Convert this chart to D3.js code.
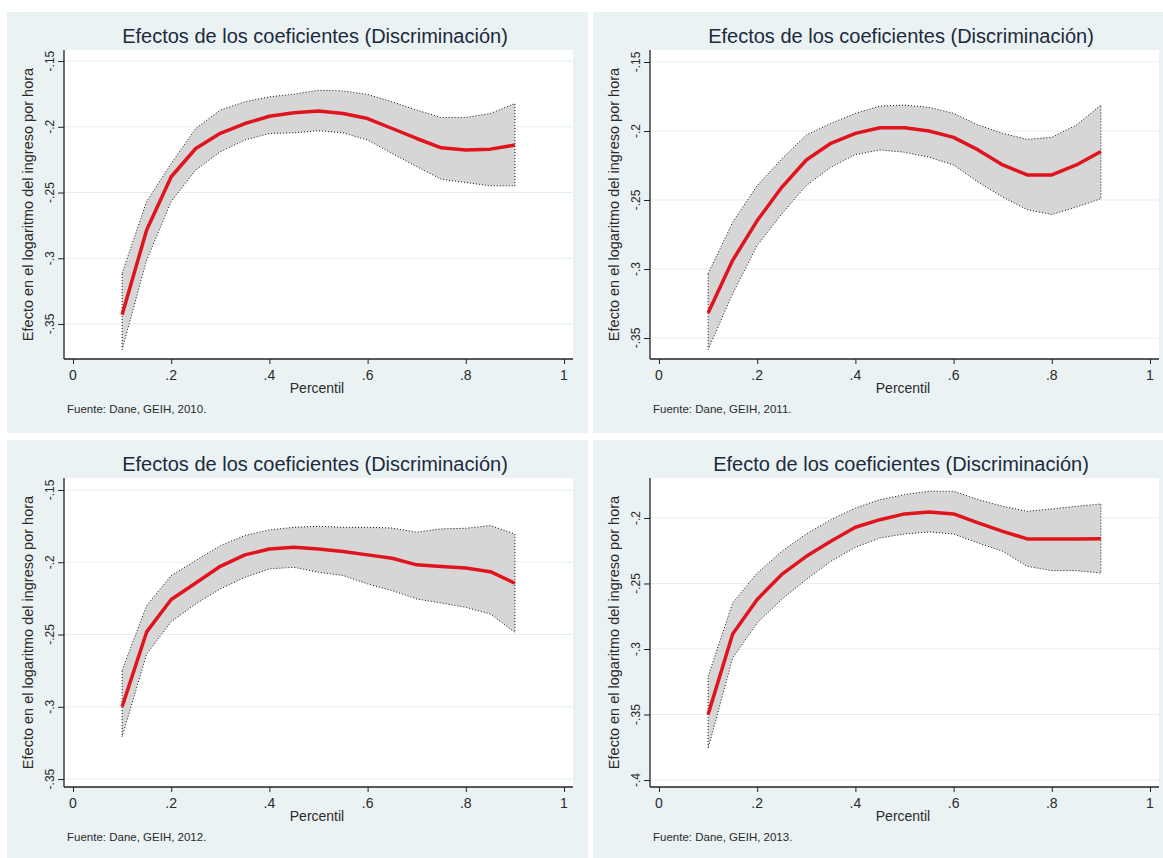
<!DOCTYPE html>
<html>
<head>
<meta charset="utf-8">
<script src="https://cdn.jsdelivr.net/npm/d3@7"></script>
<style>
  body { margin: 0; background: #fff; }
  text { font-family: Arial, "Liberation Sans", sans-serif; }
</style>
</head>
<body>
<svg id="chart" width="1163" height="858"></svg>
<script>
// percentiles estimated (x axis)
const percentiles = [0.10, 0.15, 0.20, 0.25, 0.30, 0.35, 0.40, 0.45, 0.50, 0.55, 0.60, 0.65, 0.70, 0.75, 0.80, 0.85, 0.90];
const xTicks = [0, 0.2, 0.4, 0.6, 0.8, 1];

const titles = [
  'Efectos de los coeficientes (Discriminación)',
  'Efectos de los coeficientes (Discriminación)',
  'Efectos de los coeficientes (Discriminación)',
  'Efecto de los coeficientes (Discriminación)'
];
const sources = ['Fuente: Dane, GEIH, 2010.', 'Fuente: Dane, GEIH, 2011.', 'Fuente: Dane, GEIH, 2012.', 'Fuente: Dane, GEIH, 2013.'];

const yTicks2010 = [-0.35, -0.3, -0.25, -0.2, -0.15];
const yTicks2011 = [-0.35, -0.3, -0.25, -0.2, -0.15];
const yTicks2012 = [-0.35, -0.3, -0.25, -0.2, -0.15];
const yTicks2013 = [-0.4, -0.35, -0.3, -0.25, -0.2];

// 2010
const est2010   = [-0.343, -0.2785, -0.238, -0.2165, -0.205, -0.1975, -0.192, -0.1894, -0.188, -0.1899, -0.1937, -0.2013, -0.2089, -0.216, -0.2177, -0.217, -0.2139];
const upper2010 = [-0.3114, -0.2568, -0.2279, -0.2013, -0.1873, -0.181, -0.1772, -0.1752, -0.1722, -0.1727, -0.1754, -0.181, -0.1873, -0.1929, -0.1929, -0.1899, -0.1823];
const lower2010 = [-0.3695, -0.3013, -0.2568, -0.2328, -0.219, -0.2101, -0.2051, -0.2046, -0.203, -0.2046, -0.2101, -0.2203, -0.2303, -0.2399, -0.2424, -0.2449, -0.2449];
// 2011
const est2011   = [-0.3319, -0.2937, -0.2649, -0.2408, -0.221, -0.2089, -0.2017, -0.1976, -0.1976, -0.2, -0.2046, -0.2137, -0.2246, -0.2318, -0.2318, -0.2246, -0.2149];
const upper2011 = [-0.3034, -0.2661, -0.2395, -0.2202, -0.2029, -0.1945, -0.1872, -0.1819, -0.1812, -0.1829, -0.1872, -0.1957, -0.2017, -0.206, -0.2046, -0.1957, -0.1812];
const lower2011 = [-0.3584, -0.3178, -0.2829, -0.2601, -0.2395, -0.2262, -0.2171, -0.2137, -0.2154, -0.219, -0.2246, -0.2371, -0.2479, -0.2571, -0.2605, -0.2551, -0.2491];
// 2012
const est2012   = [-0.3, -0.2482, -0.2258, -0.2143, -0.2028, -0.1949, -0.1908, -0.1896, -0.1908, -0.1926, -0.1949, -0.1972, -0.2018, -0.203, -0.2039, -0.2065, -0.2145];
const upper2012 = [-0.2747, -0.23, -0.2092, -0.1988, -0.1885, -0.1815, -0.1776, -0.1758, -0.1751, -0.1758, -0.1758, -0.1763, -0.1792, -0.1769, -0.1765, -0.1746, -0.1804];
const lower2012 = [-0.3208, -0.2635, -0.2411, -0.2288, -0.2185, -0.2104, -0.2046, -0.2035, -0.2069, -0.2092, -0.215, -0.2196, -0.2254, -0.2282, -0.2312, -0.2358, -0.2485];
// 2013
const est2013   = [-0.35, -0.2885, -0.2622, -0.2431, -0.2293, -0.2178, -0.2071, -0.2013, -0.1969, -0.1954, -0.1969, -0.2038, -0.2102, -0.216, -0.216, -0.216, -0.2158];
const upper2013 = [-0.3209, -0.2648, -0.242, -0.2254, -0.2122, -0.2013, -0.1924, -0.186, -0.1822, -0.1796, -0.1796, -0.186, -0.1911, -0.1949, -0.1931, -0.1911, -0.1893];
const lower2013 = [-0.3758, -0.3069, -0.2801, -0.2622, -0.2469, -0.2331, -0.2224, -0.2153, -0.2122, -0.2107, -0.2122, -0.2191, -0.2254, -0.2369, -0.2402, -0.2402, -0.242];

const panels = [
  { x: 7,   y: 12,  yDomain: [-0.3766, -0.1416], ticks: yTicks2010, est: est2010, upper: upper2010, lower: lower2010 },
  { x: 593, y: 12,  yDomain: [-0.3652, -0.1413], ticks: yTicks2011, est: est2011, upper: upper2011, lower: lower2011 },
  { x: 7,   y: 440, yDomain: [-0.3555, -0.1417], ticks: yTicks2012, est: est2012, upper: upper2012, lower: lower2012 },
  { x: 593, y: 440, yDomain: [-0.4053, -0.1695], ticks: yTicks2013, est: est2013, upper: upper2013, lower: lower2013 }
];

const panelW = 581, panelH = 421;
const plot = { left: 57, right: 566, top: 38, bottom: 347 };

// stata style labels: -.15, .2, 0, 1
const fmt = v => String(+v.toFixed(2)).replace(/^(-?)0\./, '$1.');

const svg = d3.select('#chart');

panels.forEach((p, i) => {
  const g = svg.append('g').attr('transform', 'translate(' + p.x + ',' + p.y + ')');

  g.append('rect')
    .attr('width', panelW).attr('height', panelH)
    .attr('fill', '#eaf2f3');

  g.append('rect')
    .attr('x', plot.left).attr('y', plot.top)
    .attr('width', plot.right - plot.left).attr('height', plot.bottom - plot.top)
    .attr('fill', '#ffffff');

  const x = d3.scaleLinear().domain([0, 1]).range([66, 557]);
  const y = d3.scaleLinear().domain(p.yDomain).range([plot.bottom, plot.top]);

  // gridlines
  g.selectAll('.grid').data(p.ticks).enter().append('line')
    .attr('x1', plot.left).attr('x2', plot.right)
    .attr('y1', d => y(d)).attr('y2', d => y(d))
    .attr('stroke', '#e6edef').attr('stroke-width', 1);

  const rows = percentiles.map((q, k) => ({ q: q, est: p.est[k], hi: p.upper[k], lo: p.lower[k] }));

  // confidence band
  const area = d3.area()
    .x(d => x(d.q))
    .y0(d => y(d.lo))
    .y1(d => y(d.hi));
  g.append('path')
    .datum(rows)
    .attr('d', area)
    .attr('fill', '#d6d6d6')
    .attr('stroke', '#111')
    .attr('stroke-width', 1)
    .attr('stroke-dasharray', '1,2');

  // estimate line
  const line = d3.line()
    .x(d => x(d.q))
    .y(d => y(d.est));
  g.append('path')
    .datum(rows)
    .attr('d', line)
    .attr('fill', 'none')
    .attr('stroke', '#e0141e')
    .attr('stroke-width', 3.5)
    .attr('stroke-linejoin', 'round');

  // axes
  const yAxis = d3.axisLeft(y).tickValues(p.ticks).tickSize(6).tickFormat('');
  const ya = g.append('g').attr('transform', 'translate(' + plot.left + ',0)').call(yAxis);
  ya.select('.domain').attr('d', 'M0,' + plot.top + 'V' + plot.bottom);
  ya.selectAll('line').attr('stroke', '#222');
  ya.select('.domain').attr('stroke', '#222').attr('stroke-width', 1.3);

  g.selectAll('.ylab').data(p.ticks).enter().append('text')
    .attr('transform', d => 'translate(47,' + y(d) + ') rotate(-90)')
    .attr('text-anchor', 'middle')
    .attr('font-size', 12)
    .attr('fill', '#2a2a2a')
    .text(fmt);

  const xAxis = d3.axisBottom(x).tickValues(xTicks).tickSize(5).tickFormat('');
  const xa = g.append('g').attr('transform', 'translate(0,' + plot.bottom + ')').call(xAxis);
  xa.select('.domain').attr('d', 'M' + plot.left + ',0H' + plot.right);
  xa.selectAll('line').attr('stroke', '#222');
  xa.select('.domain').attr('stroke', '#222').attr('stroke-width', 1.3);

  g.selectAll('.xlab').data(xTicks).enter().append('text')
    .attr('x', d => x(d)).attr('y', 368)
    .attr('text-anchor', 'middle')
    .attr('font-size', 14)
    .attr('fill', '#2a2a2a')
    .text(fmt);

  // titles
  g.append('text')
    .attr('x', 308).attr('y', 31)
    .attr('text-anchor', 'middle')
    .attr('font-size', 20)
    .attr('fill', '#1c2a3c')
    .text(titles[i]);

  g.append('text')
    .attr('x', 310).attr('y', 381)
    .attr('text-anchor', 'middle')
    .attr('font-size', 14)
    .attr('fill', '#2a2a2a')
    .text('Percentil');

  g.append('text')
    .attr('transform', 'translate(26,' + ((plot.top + plot.bottom) / 2) + ') rotate(-90)')
    .attr('text-anchor', 'middle')
    .attr('font-size', 14.5)
    .attr('fill', '#2a2a2a')
    .text('Efecto en el logaritmo del ingreso por hora');

  g.append('text')
    .attr('x', 60).attr('y', 401)
    .attr('font-size', 11.5)
    .attr('fill', '#2a2a2a')
    .text(sources[i]);
});
</script>
</body>
</html>
